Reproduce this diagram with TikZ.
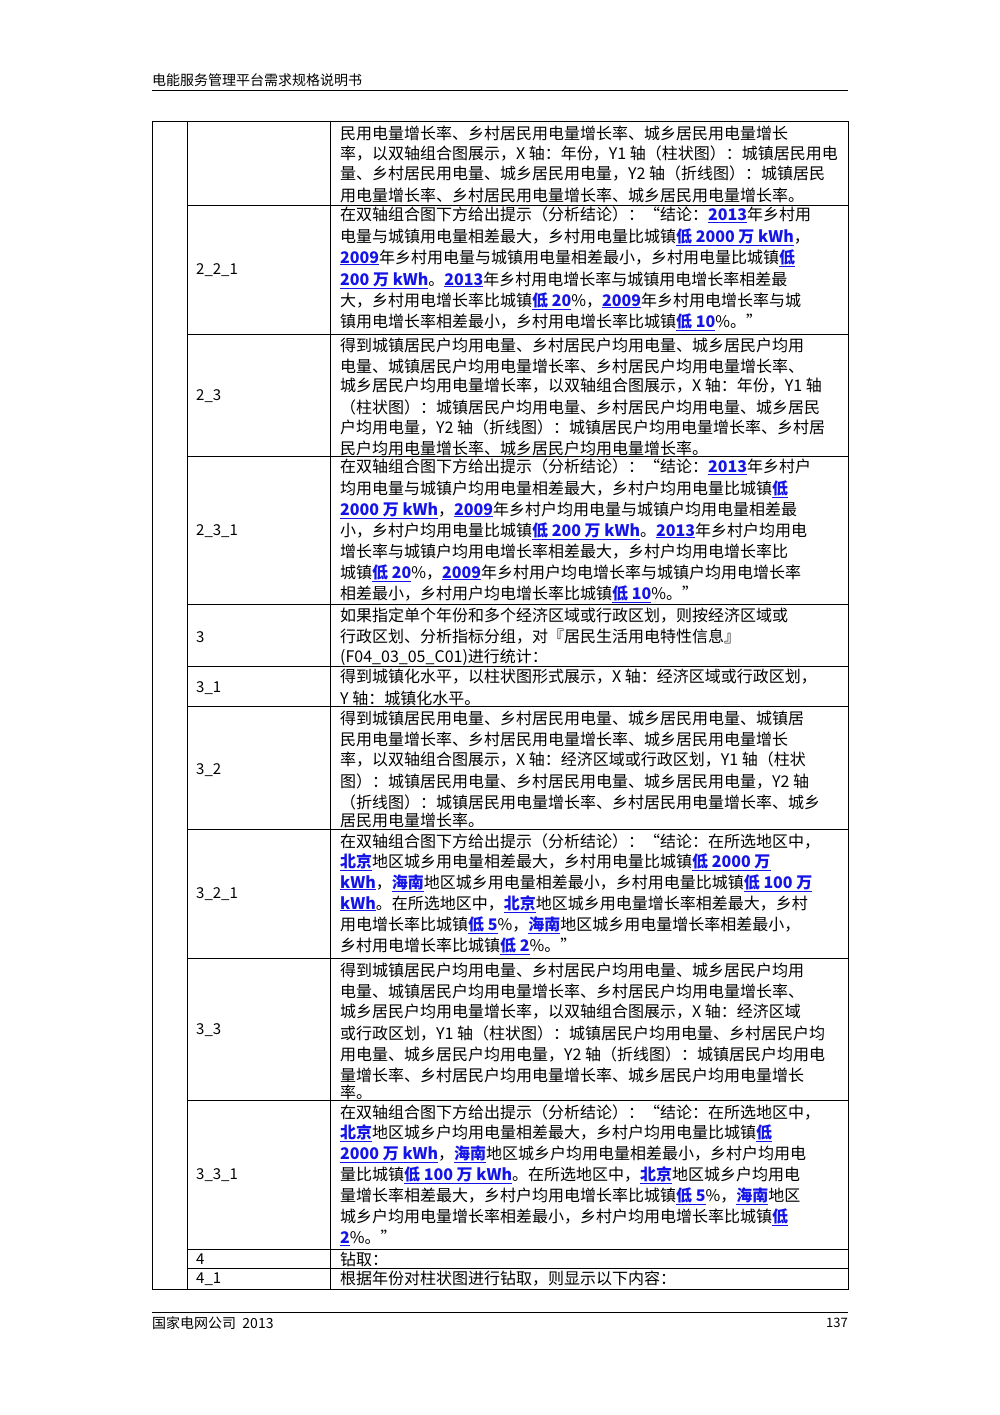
\documentclass[tikz,border=0pt]{standalone}
\usepackage{fontspec}
\setmainfont{Noto Sans CJK SC}
\definecolor{lnk}{RGB}{20,20,230}
\newcommand\lk[1]{{\color{lnk}\bfseries\underline{#1}}}
\tikzset{tx/.style={anchor=west,inner sep=0pt,font=\fontsize{16}{19}\selectfont},
 lab/.style={anchor=west,inner sep=0pt,font=\fontsize{15}{18}\selectfont},
 rl/.style={line width=0.8pt}}
\newcommand\rw[2]{\node[tx] at (340,#1) {#2};}
\newcommand\lb[2]{\node[lab] at (196,#1) {#2};}
\begin{document}
\begin{tikzpicture}[x=1pt,y=-1pt]
\useasboundingbox (0,0) rectangle (1000,1415);
\node[lab,font=\fontsize{14}{16}\selectfont] at (152,80) {电能服务管理平台需求规格说明书};
\draw[line width=0.6pt] (152,90) -- (848,90);
% table frame
\draw[rl] (152,121) rectangle (848,1289);
\draw[rl] (187,121) -- (187,1289);
\draw[rl] (330,121) -- (330,1289);
\foreach \y in {205,334,456,604,666,706,829,958,1100,1249,1268} \draw[rl] (187,\y) -- (848,\y);
% row 1
\rw{133}{民用电量增长率、乡村居民用电量增长率、城乡居民用电量增长}
\rw{154}{率，以双轴组合图展示，X 轴：年份，Y1 轴（柱状图）：城镇居民用电}
\rw{174}{量、乡村居民用电量、城乡居民用电量，Y2 轴（折线图）：城镇居民}
\rw{195}{用电量增长率、乡村居民用电量增长率、城乡居民用电量增长率。}
% 2_2_1
\lb{270}{2\_2\_1}
\rw{215}{在双轴组合图下方给出提示（分析结论）：“结论：\lk{2013}年乡村用}
\rw{237}{电量与城镇用电量相差最大，乡村用电量比城镇\lk{低 2000 万 kWh}，}
\rw{258}{\lk{2009}年乡村用电量与城镇用电量相差最小，乡村用电量比城镇\lk{低}}
\rw{280}{\lk{200 万 kWh}。\lk{2013}年乡村用电增长率与城镇用电增长率相差最}
\rw{301}{大，乡村用电增长率比城镇\lk{低 20}\%，\lk{2009}年乡村用电增长率与城}
\rw{322}{镇用电增长率相差最小，乡村用电增长率比城镇\lk{低 10}\%。”}
% 2_3
\lb{396}{2\_3}
\rw{345}{得到城镇居民户均用电量、乡村居民户均用电量、城乡居民户均用}
\rw{366}{电量、城镇居民户均用电量增长率、乡村居民户均用电量增长率、}
\rw{386}{城乡居民户均用电量增长率，以双轴组合图展示，X 轴：年份，Y1 轴}
\rw{407}{（柱状图）：城镇居民户均用电量、乡村居民户均用电量、城乡居民}
\rw{428}{户均用电量，Y2 轴（折线图）：城镇居民户均用电量增长率、乡村居}
\rw{448}{民户均用电量增长率、城乡居民户均用电量增长率。}
% 2_3_1
\lb{531}{2\_3\_1}
\rw{467}{在双轴组合图下方给出提示（分析结论）：“结论：\lk{2013}年乡村户}
\rw{489}{均用电量与城镇户均用电量相差最大，乡村户均用电量比城镇\lk{低}}
\rw{510}{\lk{2000 万 kWh}，\lk{2009}年乡村户均用电量与城镇户均用电量相差最}
\rw{531}{小，乡村户均用电量比城镇\lk{低 200 万 kWh}。\lk{2013}年乡村户均用电}
\rw{552}{增长率与城镇户均用电增长率相差最大，乡村户均用电增长率比}
\rw{573}{城镇\lk{低 20}\%，\lk{2009}年乡村用户均电增长率与城镇户均用电增长率}
\rw{594}{相差最小，乡村用户均电增长率比城镇\lk{低 10}\%。”}
% 3
\lb{637}{3}
\rw{616}{如果指定单个年份和多个经济区域或行政区划，则按经济区域或}
\rw{637}{行政区划、分析指标分组，对『居民生活用电特性信息』}
\rw{657}{(F04\_03\_05\_C01)进行统计：}
% 3_1
\lb{688}{3\_1}
\rw{677}{得到城镇化水平，以柱状图形式展示，X 轴：经济区域或行政区划，}
\rw{698}{Y 轴：城镇化水平。}
% 3_2
\lb{770}{3\_2}
\rw{718}{得到城镇居民用电量、乡村居民用电量、城乡居民用电量、城镇居}
\rw{739}{民用电量增长率、乡村居民用电量增长率、城乡居民用电量增长}
\rw{760}{率，以双轴组合图展示，X 轴：经济区域或行政区划，Y1 轴（柱状}
\rw{781}{图）：城镇居民用电量、乡村居民用电量、城乡居民用电量，Y2 轴}
\rw{802}{（折线图）：城镇居民用电量增长率、乡村居民用电量增长率、城乡}
\rw{820}{居民用电量增长率。}
% 3_2_1
\lb{894}{3\_2\_1}
\rw{841}{在双轴组合图下方给出提示（分析结论）：“结论：在所选地区中，}
\rw{862}{\lk{北京}地区城乡用电量相差最大，乡村用电量比城镇\lk{低 2000 万}}
\rw{883}{\lk{kWh}，\lk{海南}地区城乡用电量相差最小，乡村用电量比城镇\lk{低 100 万}}
\rw{904}{\lk{kWh}。在所选地区中，\lk{北京}地区城乡用电量增长率相差最大，乡村}
\rw{925}{用电增长率比城镇\lk{低 5}\%，\lk{海南}地区城乡用电量增长率相差最小，}
\rw{946}{乡村用电增长率比城镇\lk{低 2}\%。”}
% 3_3
\lb{1030}{3\_3}
\rw{970}{得到城镇居民户均用电量、乡村居民户均用电量、城乡居民户均用}
\rw{991}{电量、城镇居民户均用电量增长率、乡村居民户均用电量增长率、}
\rw{1012}{城乡居民户均用电量增长率，以双轴组合图展示，X 轴：经济区域}
\rw{1033}{或行政区划，Y1 轴（柱状图）：城镇居民户均用电量、乡村居民户均}
\rw{1054}{用电量、城乡居民户均用电量，Y2 轴（折线图）：城镇居民户均用电}
\rw{1075}{量增长率、乡村居民户均用电量增长率、城乡居民户均用电量增长}
\rw{1092}{率。}
% 3_3_1
\lb{1175}{3\_3\_1}
\rw{1112}{在双轴组合图下方给出提示（分析结论）：“结论：在所选地区中，}
\rw{1133}{\lk{北京}地区城乡户均用电量相差最大，乡村户均用电量比城镇\lk{低}}
\rw{1154}{\lk{2000 万 kWh}，\lk{海南}地区城乡户均用电量相差最小，乡村户均用电}
\rw{1175}{量比城镇\lk{低 100 万 kWh}。在所选地区中，\lk{北京}地区城乡户均用电}
\rw{1196}{量增长率相差最大，乡村户均用电增长率比城镇\lk{低 5}\%，\lk{海南}地区}
\rw{1217}{城乡户均用电量增长率相差最小，乡村户均用电增长率比城镇\lk{低}}
\rw{1238}{\lk{2}\%。”}
% 4
\lb{1259}{4}
\rw{1259}{钻取：}
\lb{1279}{4\_1}
\rw{1279}{根据年份对柱状图进行钻取，则显示以下内容：}
% footer
\draw[line width=0.6pt] (152,1312) -- (848,1312);
\node[lab,font=\fontsize{14}{16}\selectfont] at (152,1323) {国家电网公司\ \ 2013};
\node[lab,anchor=east,font=\fontsize{13}{16}\selectfont] at (848,1323) {137};
\end{tikzpicture}
\end{document}
